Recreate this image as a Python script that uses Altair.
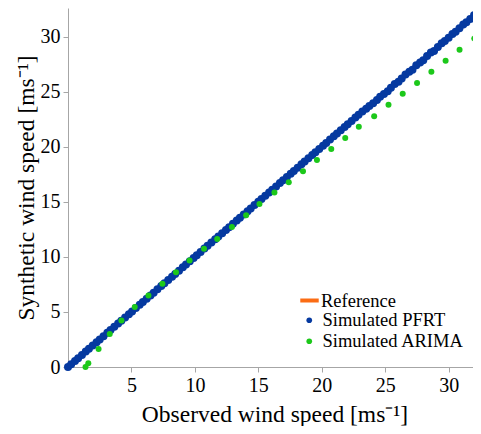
import altair as alt
import pandas as pd

FONT = "Liberation Serif"
ORANGE = "#fb6c14"
BLUE = "#0539a0"
GREEN = "#1cc81a"

series_names = ["Reference", "Simulated PFRT", "Simulated ARIMA"]

ref_x = [0.0, 32.55]
ref_y = [0.0, 32.55]

pfrt_x = [0.00, 0.25, 0.55, 0.80, 1.10, 1.40, 1.65, 1.95, 2.25, 2.50, 2.80, 3.10, 3.35, 3.65,
          3.95, 4.20, 4.50, 4.80, 5.05, 5.35, 5.65, 5.90, 6.20, 6.50, 6.75, 7.05, 7.35, 7.60,
          7.90, 8.20, 8.45, 8.75, 9.05, 9.30, 9.60, 9.90, 10.15, 10.45, 10.75, 11.00, 11.30,
          11.60, 11.85, 12.15, 12.45, 12.70, 13.00, 13.30, 13.55, 13.85, 14.15, 14.40, 14.70,
          15.00, 15.25, 15.55, 15.85, 16.10, 16.40, 16.70, 16.95, 17.25, 17.55, 17.80, 18.10,
          18.40, 18.65, 18.95, 19.25, 19.50, 19.80, 20.10, 20.35, 20.65, 20.95, 21.20, 21.50,
          21.80, 22.05, 22.35, 22.65, 22.90, 23.20, 23.50, 23.75, 24.05, 24.35, 24.60, 24.90,
          25.20, 25.45, 25.75, 26.05, 26.30, 26.60, 26.90, 27.15, 27.45, 27.75, 28.00, 28.30,
          28.60, 28.85, 29.15, 29.45, 29.70, 30.00, 30.30, 30.55, 30.85, 31.15, 31.40, 31.70,
          32.00]
pfrt_y = [0.00, 0.25, 0.55, 0.80, 1.10, 1.40, 1.65, 1.95, 2.25, 2.50, 2.80, 3.10, 3.35, 3.65,
          3.95, 4.20, 4.50, 4.80, 5.05, 5.35, 5.65, 5.90, 6.20, 6.50, 6.75, 7.05, 7.35, 7.60,
          7.90, 8.20, 8.45, 8.75, 9.05, 9.30, 9.60, 9.90, 10.15, 10.45, 10.75, 11.00, 11.30,
          11.60, 11.85, 12.15, 12.45, 12.70, 13.00, 13.30, 13.55, 13.85, 14.15, 14.40, 14.70,
          15.00, 15.25, 15.55, 15.85, 16.10, 16.40, 16.70, 16.95, 17.25, 17.55, 17.80, 18.10,
          18.40, 18.65, 18.95, 19.25, 19.50, 19.80, 20.10, 20.35, 20.65, 20.95, 21.20, 21.50,
          21.80, 22.05, 22.35, 22.65, 22.90, 23.20, 23.45, 23.70, 23.95, 24.25, 24.55, 24.80,
          25.05, 25.35, 25.70, 25.90, 26.20, 26.55, 26.80, 27.00, 27.40, 27.65, 27.85, 28.25,
          28.55, 28.70, 29.05, 29.40, 29.60, 29.90, 30.25, 30.45, 30.75, 31.10, 31.30, 31.60,
          31.95]

arima_x = [1.38, 1.60, 2.41, 3.29, 4.21, 5.26, 6.34, 7.44, 8.51, 9.58, 10.72, 11.76, 12.92,
           14.04, 15.09, 16.27, 17.40, 18.52, 19.62, 20.75, 21.85, 22.92, 24.13, 25.26, 26.38,
           27.51, 28.64, 29.76, 30.86, 32.02]
arima_y = [0.00, 0.34, 1.63, 2.99, 4.23, 5.44, 6.50, 7.55, 8.61, 9.67, 10.73, 11.63, 12.72,
           13.78, 14.81, 15.84, 16.77, 17.77, 18.79, 19.79, 20.79, 21.82, 22.78, 23.81, 24.81,
           25.80, 26.80, 27.81, 28.80, 29.83]

x_ticks = [5, 10, 15, 20, 25, 30]
y_ticks = [0, 5, 10, 15, 20, 25, 30]

ref_df = pd.DataFrame({"x": ref_x, "y": ref_y, "series": series_names[0]})
pfrt_df = pd.DataFrame({"x": pfrt_x, "y": pfrt_y, "series": series_names[1]})
arima_df = pd.DataFrame({"x": arima_x, "y": arima_y, "series": series_names[2]})

axis_common = dict(
    grid=False, domainColor="#a6a6a6", tickColor="#a6a6a6", tickSize=5,
    labelFont=FONT, labelFontSize=20, labelColor="black",
    titleFont=FONT, titleFontSize=23.5, titleFontWeight="normal", titleColor="black",
)

x_enc = alt.X("x:Q", scale=alt.Scale(domain=[0, 32.55], nice=False, zero=False),
              axis=alt.Axis(values=x_ticks, title="Observed wind speed [ms⁻¹]",
                            labelPadding=3, titlePadding=7, **axis_common))
y_enc = alt.Y("y:Q", scale=alt.Scale(domain=[0, 32.6], nice=False, zero=False),
              axis=alt.Axis(values=y_ticks, title="Synthetic wind speed [ms⁻¹]",
                            labelPadding=3, titlePadding=2, **axis_common))

ref = alt.Chart(ref_df).mark_line(strokeWidth=3, clip=True).encode(
    x=x_enc, y=y_enc,
    stroke=alt.Stroke("series:N", scale=alt.Scale(domain=[series_names[0]], range=[ORANGE]),
                      legend=alt.Legend(orient="none", legendX=230, legendY=281, title=None,
                                        padding=0, symbolSize=340, symbolStrokeWidth=4,
                                        labelOffset=0, labelFont=FONT, labelFontSize=18.5,
                                        labelColor="black")),
)

color_scale = alt.Scale(domain=series_names[1:], range=[BLUE, GREEN])
color_legend = alt.Legend(orient="none", legendX=232, legendY=303, title=None, padding=0,
                          symbolSize=32, labelOffset=4, rowPadding=2, labelFont=FONT,
                          labelFontSize=18.5, labelColor="black")

pfrt = alt.Chart(pfrt_df).mark_circle(size=64, opacity=1).encode(
    x=x_enc, y=y_enc, color=alt.Color("series:N", scale=color_scale, legend=color_legend))
arima = alt.Chart(arima_df).mark_circle(size=36, opacity=1).encode(
    x=x_enc, y=y_enc, color=alt.Color("series:N", scale=color_scale, legend=color_legend))

chart = alt.layer(ref, pfrt, arima).properties(
    width=413, height=359,
    autosize=alt.AutoSizeParams(type="none"),
    padding={"left": 60, "top": 0, "right": -8, "bottom": 59},
).configure_view(stroke=None)

chart.save("out.html", embed_options={"renderer": "svg", "actions": False})
